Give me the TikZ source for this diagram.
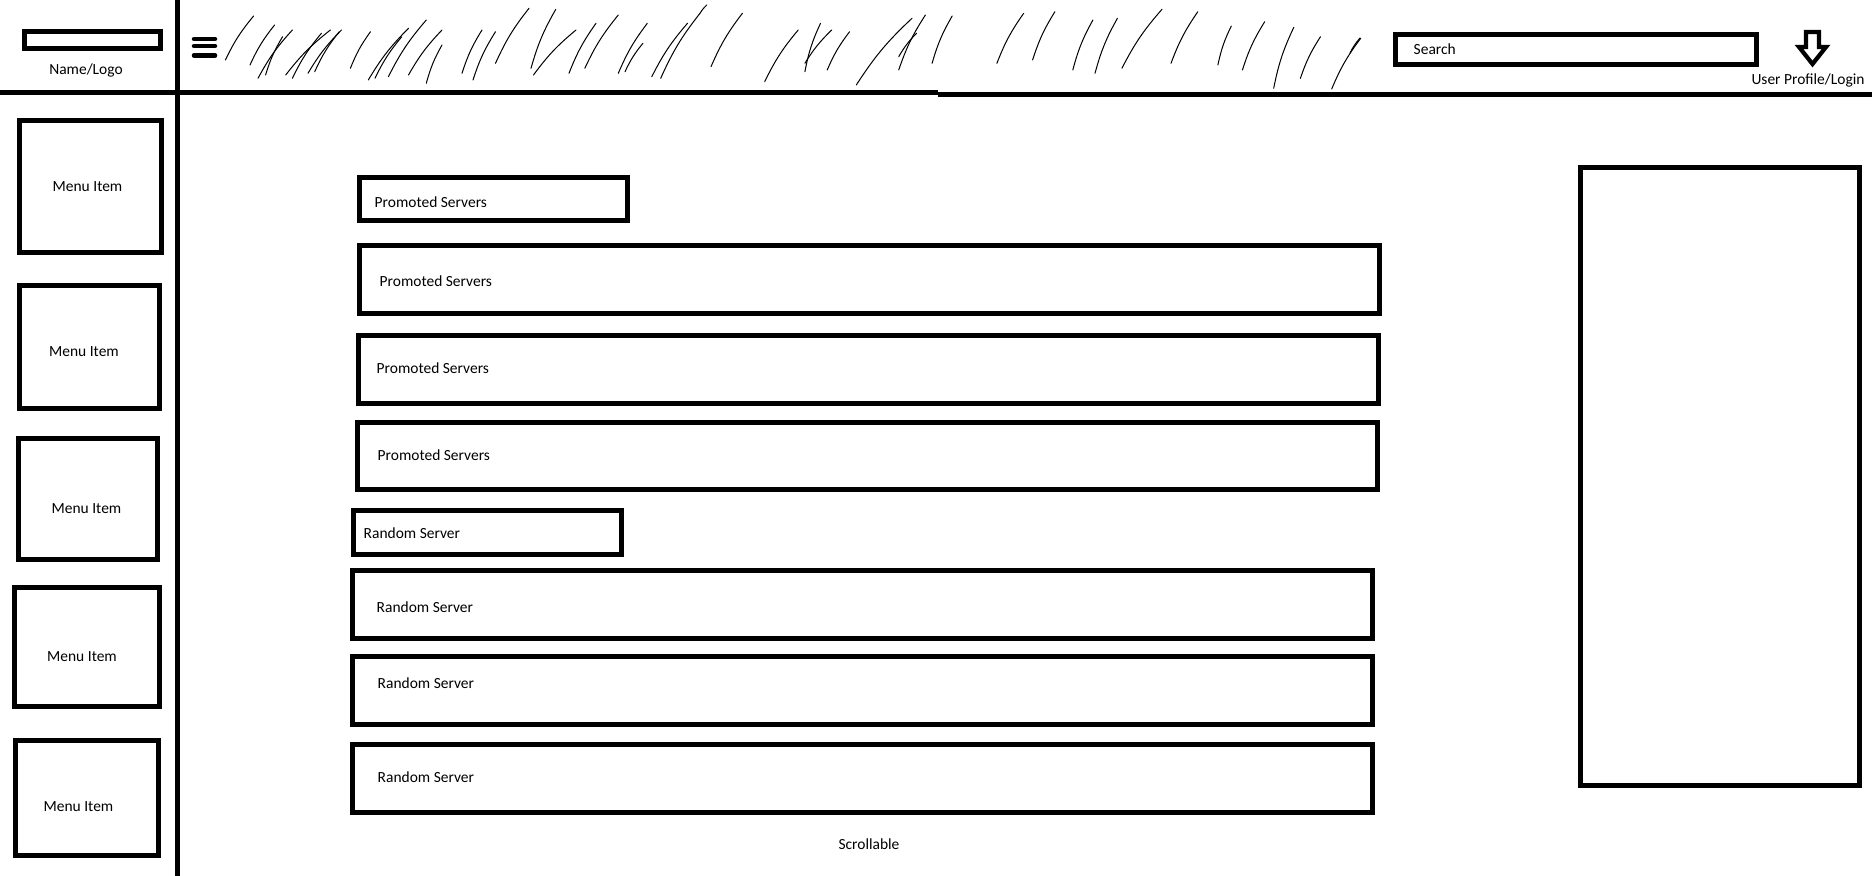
\documentclass[tikz,border=0pt]{standalone}
\usepackage{fontspec}
\setmainfont{Carlito}
\begin{document}
\begin{tikzpicture}[x=0.01cm, y=-0.01cm,
  box/.style={draw, line width=0.05cm, rectangle, inner sep=0pt},
  lbl/.style={inner sep=0pt, font=\fontsize{4.4pt}{5pt}\selectfont},
  scr/.style={line width=0.01cm, line cap=round},
  rule/.style={line width=0.05cm}]
\useasboundingbox (0,0) rectangle (1872,876);

% header / sidebar rules
\draw[rule] (0,93) -- (938,93);
\draw[rule] (938,94.5) -- (1872,94.5);
\draw[rule] (177,0) -- (177,876);

% logo
\node[box, minimum width=1.36cm, minimum height=0.17cm] (logo) at (92.5,40) {};
\node[lbl, anchor=base] (logot) at (86,75) {Name/Logo};

% hamburger
\draw[line width=0.045cm, line cap=round] (194,39)--(215,39) (194,46)--(215,46) (194,55.5)--(215,55.5);

% scribbles
\foreach \a/\b/\c/\d [count=\i] in {
225.4/60/253.6/16, 250/65/274.6/25, 258/78.3/292.4/30, 265.6/75/282.6/36.7,
292.4/78.3/321.4/33.3, 285.7/75/330.4/30, 308/73.3/341.5/30, 314.7/71.7/339.3/31.7,
350.4/68.3/370.5/31.7, 368.3/80/408.5/28.3, 375/78.3/401.8/36.7, 388.4/76.7/426.3/20,
408.5/75/442/30, 426.3/83.3/442/45, 462/73.3/482/30, 473/80/495.5/31.7,
495.5/63.3/529/8.3, 531/68.3/555.8/9.3, 533.5/75/576/30, 569/73.3/596/23.3,
584.8/68.3/618.3/15, 618.3/73.3/647.3/23.3, 625/71.7/642.9/43.3, 651.8/76.7/687.5/23.3,
660.7/78.3/700/13.3, 711/66.7/742.4/13.3, 700/13.3/706.7/5, 764.7/81.7/798.2/30,
804.9/71.7/820.5/23.3, 804.9/63.3/831.7/30, 827.2/70/849.6/31.7, 856.3/85/912/18.3,
898.7/70/925.4/15, 898.7/56.7/916.5/33.3, 932.1/63.3/952.2/16, 996.9/63.3/1023.7/13.3,
1032.6/60/1054.9/11.7, 1072.8/70/1092.9/20, 1095/73.3/1117.4/18.3, 1121.9/68.3/1162/9.3,
1171/63.3/1197.8/11.7, 1217.9/65/1231.3/26, 1242.4/70/1264.7/21.7, 1273.7/88.3/1293.8/27.3,
1300.4/78.3/1320.5/36.7, 1331.7/89/1360.7/38.3, 1350/53/1360/38}
  \draw[scr] (\a,\b) to[bend left=7] (\c,\d);

% search and user
\node[box, minimum width=3.61cm, minimum height=0.30cm] (search) at (1576,49.5) {};
\node[lbl, anchor=base west] (searcht) at (1413,55) {Search};
\draw[line width=0.042cm, line join=miter] (1806,32) -- (1819,32) -- (1819,47) -- (1826,47) -- (1812.5,64) -- (1799,47) -- (1806,47) -- cycle;
\node[lbl, anchor=base] (usert) at (1808,85) {User Profile/Login};

% menu items
\node[box, minimum width=1.42cm, minimum height=1.32cm] (m1) at (90.5,186.5) {};
\node[box, minimum width=1.40cm, minimum height=1.23cm] (m2) at (89.5,347) {};
\node[box, minimum width=1.39cm, minimum height=1.21cm] (m3) at (88,499) {};
\node[box, minimum width=1.45cm, minimum height=1.19cm] (m4) at (87,647) {};
\node[box, minimum width=1.43cm, minimum height=1.15cm] (m5) at (87,798) {};
\node[lbl, anchor=base] (m1t) at (87.5,191.7) {Menu Item};
\node[lbl, anchor=base] (m2t) at (84,356.7) {Menu Item};
\node[lbl, anchor=base] (m3t) at (86.5,513.7) {Menu Item};
\node[lbl, anchor=base] (m4t) at (82,661.7) {Menu Item};
\node[lbl, anchor=base] (m5t) at (78.5,811.7) {Menu Item};

% promoted servers
\node[box, minimum width=2.68cm, minimum height=0.43cm] (ps0) at (493.5,199) {};
\node[box, minimum width=10.20cm, minimum height=0.68cm] (ps1) at (869.5,279.5) {};
\node[box, minimum width=10.20cm, minimum height=0.68cm] (ps2) at (868.5,369.5) {};
\node[box, minimum width=10.20cm, minimum height=0.67cm] (ps3) at (867.5,456) {};
\node[lbl, anchor=base west] (ps0t) at (374,207.5) {Promoted Servers};
\node[lbl, anchor=base west] (ps1t) at (379,286.7) {Promoted Servers};
\node[lbl, anchor=base west] (ps2t) at (376,373.7) {Promoted Servers};
\node[lbl, anchor=base west] (ps3t) at (377,460.7) {Promoted Servers};

% random servers
\node[box, minimum width=2.68cm, minimum height=0.44cm] (rs0) at (487.5,532.5) {};
\node[box, minimum width=10.20cm, minimum height=0.68cm] (rs1) at (862.5,604.5) {};
\node[box, minimum width=10.20cm, minimum height=0.68cm] (rs2) at (862.5,690.5) {};
\node[box, minimum width=10.20cm, minimum height=0.68cm] (rs3) at (862.5,778.5) {};
\node[lbl, anchor=base west] (rs0t) at (363,538.7) {Random Server};
\node[lbl, anchor=base west] (rs1t) at (376,612.7) {Random Server};
\node[lbl, anchor=base west] (rs2t) at (377,688.7) {Random Server};
\node[lbl, anchor=base west] (rs3t) at (377,782.7) {Random Server};

% right panel
\node[box, minimum width=2.79cm, minimum height=6.18cm] (side) at (1720,476.5) {};

\node[lbl, anchor=base] (scroll) at (869,849.7) {Scrollable};
\end{tikzpicture}
\end{document}
